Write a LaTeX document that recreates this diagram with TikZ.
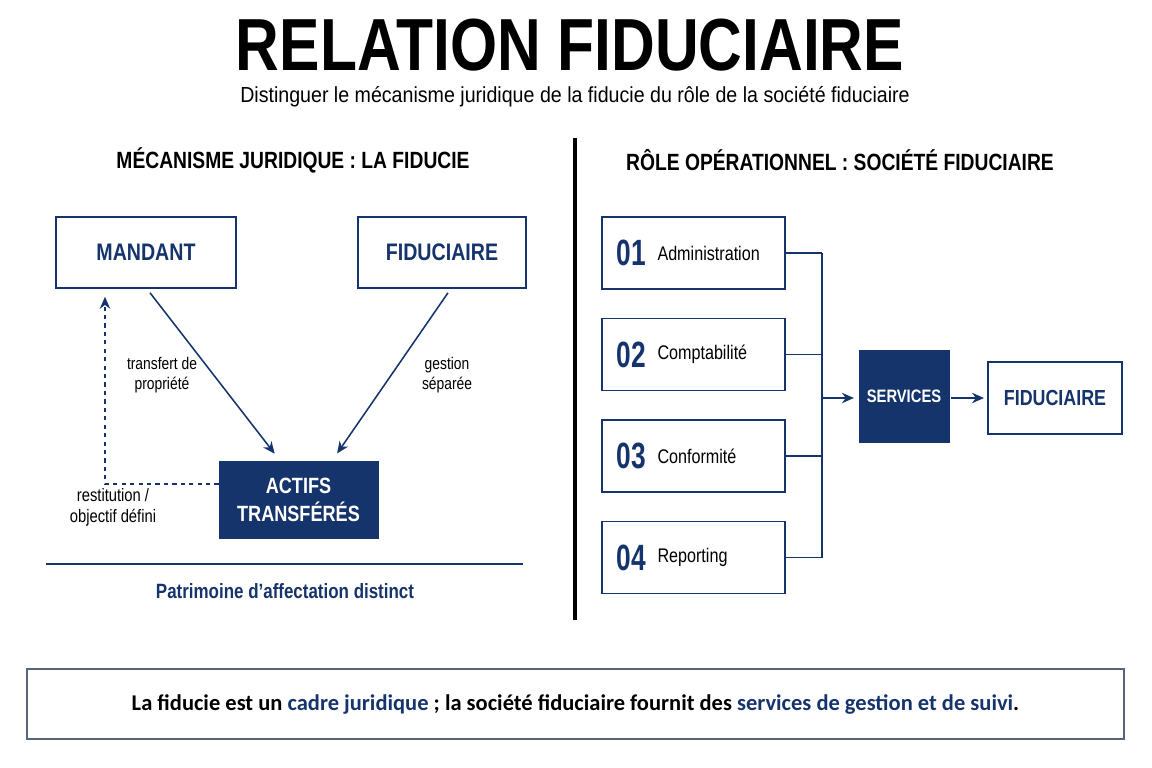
\documentclass[tikz,border=0pt]{standalone}
\usepackage{fontspec}
\setmainfont{Liberation Sans}[FakeStretch=0.82]
\newfontfamily\subfont{Liberation Sans}[FakeStretch=0.9]
\newfontfamily\digitfont{Liberation Sans}[FakeStretch=0.72]
\newfontfamily\notefont{Carlito}
\usepackage{xcolor}
\usepackage{tikz}
\usetikzlibrary{arrows.meta, positioning}
\definecolor{navy}{RGB}{22,52,108}
\definecolor{frame}{RGB}{88,100,122}

\begin{document}
\begin{tikzpicture}[x=0.025cm, y=-0.025cm,
    wbox/.style={draw=navy, line width=1.1pt, fill=white, text=navy, font=\fontsize{17}{19}\selectfont\bfseries, minimum height=1.775cm},
    nbox/.style={draw=navy, fill=navy, text=white, font=\fontsize{15.7}{20}\selectfont\bfseries, align=center},
    svc/.style={draw=navy, line width=1.1pt, minimum width=4.575cm, minimum height=1.8cm},
    num/.style={anchor=west, inner sep=0pt, text=navy, font=\digitfont\fontsize{26}{26}\selectfont\bfseries},
    item/.style={anchor=west, inner sep=0pt, font=\fontsize{14}{16}\selectfont},
    lbl/.style={align=center, font=\fontsize{12}{14}\selectfont},
    head/.style={font=\fontsize{16.7}{18}\selectfont\bfseries},
    arr/.style={-{Stealth[length=3mm, width=2.6mm]}, navy, line width=1.1pt},
    conn/.style={navy, line width=1.1pt}]
    \useasboundingbox (0,0) rectangle (1152,768);
    % titles
    \node[font=\fontsize{52.5}{56}\selectfont\bfseries] (title) at (570,45) {RELATION FIDUCIAIRE};
    \node[font=\subfont\fontsize{15.5}{17}\selectfont] (sub) at (575,97) {Distinguer le mécanisme juridique de la fiducie du rôle de la société fiduciaire};
    \node[head] (lhead) at (293,160) {MÉCANISME JURIDIQUE : LA FIDUCIE};
    \node[head] (rhead) at (840,160) {RÔLE OPÉRATIONNEL : SOCIÉTÉ FIDUCIAIRE};
    \draw[line width=2.2pt] (575,138) -- (575,620);

    % left part: the trust
    \node[wbox, minimum width=4.5cm] (mand) at (146,252.5) {MANDANT};
    \node[wbox, minimum width=4.2cm] (fidl) at (442,252.5) {FIDUCIAIRE};
    \node[nbox, minimum width=3.975cm, minimum height=1.925cm] (act) at (298.5,499.5) {ACTIFS\\TRANSFÉRÉS};
    \draw[arr, shorten >=0.22cm] ([xshift=0.1cm, yshift=-0.1cm]mand.south) -- ([xshift=-0.46cm]act.north);
    \draw[arr, shorten >=0.22cm] ([xshift=0.15cm, yshift=-0.1cm]fidl.south) -- ([xshift=0.84cm]act.north);
    \draw[arr, dashed, line width=0.9pt] ([yshift=0.39cm]act.west) -| ([xshift=-1.025cm, yshift=-0.2cm]mand.south);
    \node[lbl] (tp) at (162,375) {transfert de\\propriété};
    \node[lbl] (gs) at (447,375) {gestion\\séparée};
    \node[lbl, font=\fontsize{12.8}{15}\selectfont] (rs) at (113,507) {restitution /\\objectif défini};
    \draw[conn, line width=1.5pt] (46,564) -- (523,564);
    \node[text=navy, font=\fontsize{14.7}{16}\selectfont\bfseries] (pat) at (285,591) {Patrimoine d’affectation distinct};

    % right part: the services
    \foreach \i/\t in {1/Administration, 2/Comptabilité, 3/Conformité, 4/Reporting} {
      \node[svc] (r\i) at (693.5,{253+101.5*(\i-1)}) {};
      \node[num] (n\i) at ([xshift=0.375cm]r\i.west) {0\i};
      \node[item] (t\i) at ([xshift=1.4cm]r\i.west) {\t};
    }
    \coordinate (bus) at (822,398);
    \foreach \i in {1,...,4}
      \draw[conn] (r\i.east) -- (r\i.east -| bus);
    \draw[conn] (r1.east -| bus) -- (r4.east -| bus);
    \node[nbox, minimum width=2.25cm, minimum height=2.3cm, font=\fontsize{12.8}{15}\selectfont\bfseries] (serv) at (904,396) {SERVICES};
    \node[wbox, minimum width=3.35cm, minimum height=1.8cm, font=\fontsize{15.5}{17}\selectfont\bfseries] (fidr) at (1055,398) {FIDUCIAIRE};
    \draw[arr, shorten >=0.12cm] (bus) -- (bus -| serv.west);
    \draw[arr, shorten <=0.05cm, shorten >=0.08cm] (serv.east |- bus) -- (fidr.west |- bus);

    % conclusion
    \node[draw=frame, line width=1.3pt, minimum width=27.425cm, minimum height=1.75cm, font=\notefont\fontsize{16}{18}\selectfont\bfseries] (concl) at (575.5,704)
      {La fiducie est un \textcolor{navy}{cadre juridique} ; la société fiduciaire fournit des \textcolor{navy}{services de gestion et de suivi}.};
  \end{tikzpicture}
\end{document}
